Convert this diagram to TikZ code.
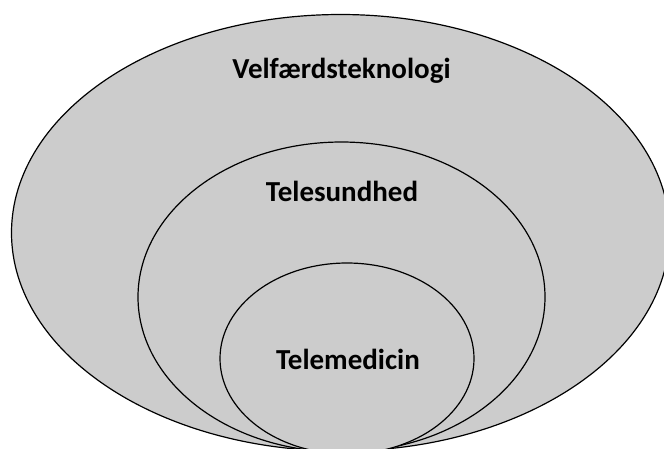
\documentclass[tikz,border=0pt]{standalone}
\usepackage{fontspec}
\setmainfont{Carlito}
\definecolor{fillgray}{RGB}{204,204,204}
\begin{document}
\begin{tikzpicture}[x=1pt,y=-1pt,
  region/.style={fill=fillgray,draw=black,line width=1.2pt},
  lbl/.style={anchor=base,inner sep=0pt,font=\fontsize{29}{35}\selectfont\bfseries}]
\useasboundingbox (0,0) rectangle (664,448);
\begin{scope}
\clip (0,0) rectangle (664,448);
\path[region] (340.5,232.75) ellipse [x radius=329, y radius=218.25];
\path[region] (341.5,297) ellipse [x radius=203.5, y radius=155];
\path[region] (347,358.5) ellipse [x radius=127, y radius=95.5];
\end{scope}
\node[lbl] (velf) at (341.5,78) {Velfærdsteknologi};
\node[lbl] (tsund) at (342,201) {Telesundhed};
\node[lbl] (tmed) at (348,369) {Telemedicin};
\end{tikzpicture}
\end{document}
